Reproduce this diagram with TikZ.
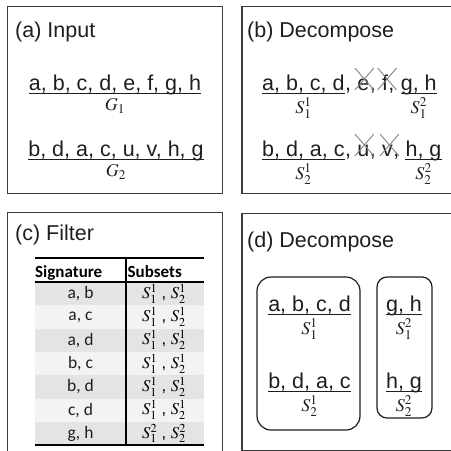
\documentclass[tikz,border=0pt]{standalone}
\usepackage{mathptmx}
\usepackage{fontspec}
\setmainfont{Liberation Sans}
\newfontfamily\calfont{Carlito}
\usetikzlibrary{shapes.misc}
\definecolor{panelgray}{HTML}{3C3C3C}
\definecolor{inkgray}{HTML}{1E1E1E}
\definecolor{rowdark}{HTML}{E4E4E4}
\definecolor{rowlight}{HTML}{F3F3F3}
\newcommand\gsp{\kern\fontdimen2\font}
\tikzset{
  panel/.style={draw=panelgray, line width=1.6pt},
  bigfont/.style={font=\fontsize{21.5}{24}\selectfont, text=inkgray},
  title/.style={bigfont, anchor=base west, inner sep=0pt},
  seq/.style={bigfont, anchor=base, inner sep=0pt},
  piece/.style={bigfont, anchor=base west, inner sep=0pt},
  lab/.style={inner sep=0pt, font=\fontsize{18}{20}\selectfont, text=inkgray},
  underrule/.style={draw=inkgray, line width=1.1pt},
  xout/.style={cross out, draw=gray, line width=0.9pt, minimum width=18pt, minimum height=21pt, inner sep=0pt},
  grp/.style={draw=inkgray, line width=1.2pt},
  tcell/.style={inner sep=0pt, font=\calfont\fontsize{17.5}{19}\selectfont, text=inkgray},
  thead/.style={inner sep=0pt, anchor=base west, font=\calfont\bfseries\fontsize{17}{19}\selectfont},
  tmath/.style={inner sep=0pt, font=\fontsize{16.5}{18}\selectfont},
  trule/.style={draw=black, line width=2pt},
}
\begin{document}
\begin{tikzpicture}[x=1pt,y=-1pt]
\useasboundingbox (0,0) rectangle (451,451);
% ---------- panel frames
\draw[panel] (7.5,6.5) rectangle (222.5,193.5);
\draw[panel] (455,6.5) -- (242,6.5) -- (242,193.5) -- (455,193.5);
\draw[panel] (222.5,455) -- (222.5,212.5) -- (7.5,212.5) -- (7.5,455);
\draw[panel] (455,213.5) -- (242,213.5) -- (242,450.5) -- (455,450.5);

% ---------- (a) Input
\node[title] (ta) at (15,37) {(a) Input};
\node[seq] (a1) at (115,90) {a, b, c, d, e, f, g, h};
\draw[underrule] ([yshift=-3.5pt]a1.base west) -- ([yshift=-3.5pt]a1.base east);
\node[lab] (g1) at ([yshift=-16pt]a1.base) {$G_1$};
\node[seq] (a2) at (116,156) {b, d, a, c, u, v, h, g};
\draw[underrule] ([yshift=-3.5pt]a2.base west) -- ([yshift=-3.5pt]a2.base east);
\node[lab] (g2) at ([yshift=-16pt]a2.base) {$G_2$};

% ---------- (b) Decompose
\node[title] (tb) at (247,37) {(b) Decompose};
\node[piece] (b1l) at (262,90) {a, b, c, d};
\node[piece] (b1c1) at (b1l.base east) {,\gsp};
\node[piece] (b1e) at (b1c1.base east) {e};
\node[piece] (b1c2) at (b1e.base east) {,\gsp};
\node[piece] (b1f) at (b1c2.base east) {f};
\node[piece] (b1c3) at (b1f.base east) {,\gsp};
\node[piece] (b1r) at (b1c3.base east) {g, h};
\draw[underrule] ([yshift=-3.5pt]b1l.base west) -- ([yshift=-3.5pt]b1l.base east);
\draw[underrule] ([yshift=-3.5pt]b1r.base west) -- ([yshift=-3.5pt]b1r.base east);
\node[xout] (x1e) at ([xshift=1pt,yshift=11pt]b1e.base) {};
\node[xout] (x1f) at ([xshift=2pt,yshift=11pt]b1f.base) {};
\node[lab] (s11b) at ([yshift=-18pt]b1l.base) {$S_1^1$};
\node[lab] (s12b) at ([yshift=-18pt]b1r.base) {$S_1^2$};

\node[piece] (b2l) at (262,156) {b, d, a, c};
\node[piece] (b2c1) at (b2l.base east) {,\gsp};
\node[piece] (b2u) at (b2c1.base east) {u};
\node[piece] (b2c2) at (b2u.base east) {,\gsp};
\node[piece] (b2v) at (b2c2.base east) {v};
\node[piece] (b2c3) at (b2v.base east) {,\gsp};
\node[piece] (b2r) at (b2c3.base east) {h, g};
\draw[underrule] ([yshift=-3.5pt]b2l.base west) -- ([yshift=-3.5pt]b2l.base east);
\draw[underrule] ([yshift=-3.5pt]b2r.base west) -- ([yshift=-3.5pt]b2r.base east);
\node[xout] (x2u) at ([xshift=1pt,yshift=11pt]b2u.base) {};
\node[xout] (x2v) at ([xshift=2pt,yshift=11pt]b2v.base) {};
\node[lab] (s21b) at ([yshift=-18pt]b2l.base) {$S_2^1$};
\node[lab] (s22b) at ([yshift=-18pt]b2r.base) {$S_2^2$};

% ---------- (c) Filter
\node[title] (tc) at (15,240) {(c) Filter};
\foreach \i/\sig/\sub [count=\k] in {
  1/{a, b}/{$S_1^1$ , $S_2^1$},
  2/{a, c}/{$S_1^1$ , $S_2^1$},
  3/{a, d}/{$S_1^1$ , $S_2^1$},
  4/{b, c}/{$S_1^1$ , $S_2^1$},
  5/{b, d}/{$S_1^1$ , $S_2^1$},
  6/{c, d}/{$S_1^1$ , $S_2^1$},
  7/{g, h}/{$S_1^2$ , $S_2^2$}}{
  \pgfmathsetmacro{\ytop}{282+(\i-1)*23.3}
  \pgfmathsetmacro{\ymid}{282+(\i-0.5)*23.3}
  \ifodd\i
    \fill[rowdark] (35,\ytop) rectangle (204,\ytop+23.3);
  \else
    \fill[rowlight] (35,\ytop) rectangle (204,\ytop+23.3);
  \fi
  \node[tcell] (sig\i) at (80.5,\ymid) {\sig};
  \node[tmath] (sub\i) at (164,\ymid) {\sub};
}
\node[thead] (hsig) at (35,277) {Signature};
\node[thead] (hsub) at (127.5,277) {Subsets};
\draw[trule] (35,258) -- (204,258);
\draw[trule] (35,282) -- (204,282);
\draw[trule] (35,445) -- (204,445);
\draw[draw=black, line width=1.3pt] (126,258) -- (126,445);

% ---------- (d) Decompose
\node[title] (td) at (247,247) {(d) Decompose};
\node[grp, rounded corners=14pt, minimum width=103pt, minimum height=153pt] (gl) at (308.5,353.5) {};
\node[grp, rounded corners=10pt, minimum width=55pt, minimum height=141pt] (gr) at (404.5,347.5) {};
\node[seq] (d1) at (309.5,311) {a, b, c, d};
\draw[underrule] ([yshift=-3.5pt]d1.base west) -- ([yshift=-3.5pt]d1.base east);
\node[lab] (ds11) at ([yshift=-18pt]d1.base) {$S_1^1$};
\node[seq] (d2) at (309.5,388) {b, d, a, c};
\draw[underrule] ([yshift=-3.5pt]d2.base west) -- ([yshift=-3.5pt]d2.base east);
\node[lab] (ds21) at ([yshift=-18pt]d2.base) {$S_2^1$};
\node[seq] (d3) at (404,311) {g, h};
\draw[underrule] ([yshift=-3.5pt]d3.base west) -- ([yshift=-3.5pt]d3.base east);
\node[lab] (ds12) at ([yshift=-18pt]d3.base) {$S_1^2$};
\node[seq] (d4) at (404,388) {h, g};
\draw[underrule] ([yshift=-3.5pt]d4.base west) -- ([yshift=-3.5pt]d4.base east);
\node[lab] (ds22) at ([yshift=-18pt]d4.base) {$S_2^2$};
\end{tikzpicture}
\end{document}
